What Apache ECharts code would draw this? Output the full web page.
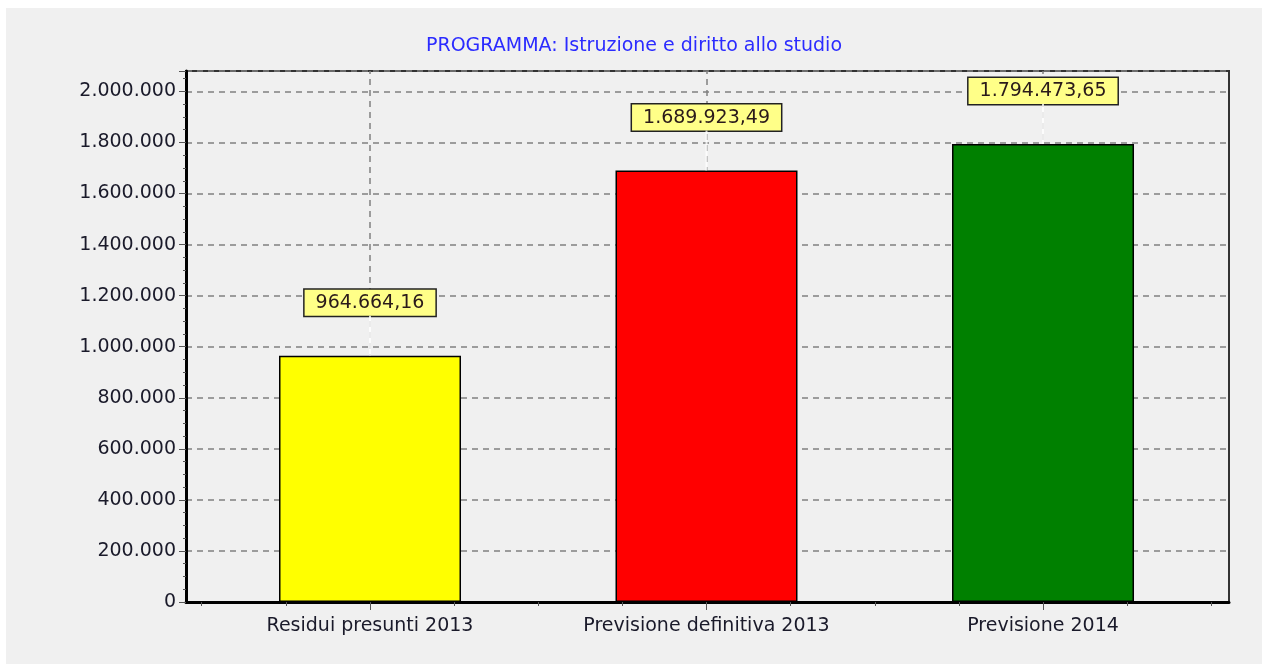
<!DOCTYPE html>
<html>
<head>
<meta charset="utf-8">
<script src="https://cdn.jsdelivr.net/npm/echarts@6/dist/echarts.min.js"></script>
<style>
  html, body { margin: 0; padding: 0; background: #ffffff; }
  #chart-panel {
    position: absolute;
    left: 6px;
    top: 8px;
    width: 1256px;
    height: 656px;
  }
</style>
</head>
<body>
<div id="chart-panel"></div>
<script>
// dati
const categories = ["Residui presunti 2013", "Previsione definitiva 2013", "Previsione 2014"]
const values = [964664.16, 1689923.49, 1794473.65]
const barColors = ["#ffff00", "#ff0000", "#008000"]
const yTicks = [0, 200000, 400000, 600000, 800000, 1000000, 1200000, 1400000, 1600000, 1800000, 2000000]
const xMinorTicks = [-0.5, -0.25, 0, 0.25, 0.5, 0.75, 1, 1.25, 1.5, 1.75, 2, 2.25, 2.5]
const title = "PROGRAMMA: Istruzione e diritto allo studio"

const font = "'DejaVu Sans', Verdana, sans-serif"

// 1234567 -> "1.234.567"
const fmtInt = (v) => {
  return String(Math.round(v)).replace(/\B(?=(\d{3})+(?!\d))/g, ".")
}
// 964664.16 -> "964.664,16"
const fmtDec = (v) => {
  const parts = v.toFixed(2).split(".")
  return fmtInt(Number(parts[0])) + "," + parts[1]
}

const chart = echarts.init(document.getElementById("chart-panel"), null, {
  renderer: "canvas"
})

const catIdx = categories.map((c, i) => i)
const data = values.map((v, i) => {
  return {
    value: [i, v],
    itemStyle: { color: barColors[i] }
  }
})
const points = values.map((v, i) => [i, v])

const options = {
  backgroundColor: "#f0f0f0",
  animation: false,
  title: {
    text: title,
    left: "center",
    top: 29,
    padding: 0,
    textStyle: {
      color: "#2b2bff",
      fontSize: 19,
      fontWeight: "normal",
      fontFamily: font
    }
  },
  grid: {
    left: 180,
    right: 33,
    top: 63,
    bottom: 62,
    show: true,
    backgroundColor: "#f0f0f0",
    borderColor: "#333",
    borderWidth: 2
  },
  xAxis: [
    {
      type: "value",
      min: -0.5468,
      max: 2.5527,
      axisLine: { show: true, onZero: false, lineStyle: { color: "#000", width: 3 } },
      axisTick: {
        show: true,
        length: 4,
        customValues: xMinorTicks,
        lineStyle: { color: "#555", width: 1 }
      },
      axisLabel: { show: false },
      splitLine: { show: false }
    },
    {
      type: "value",
      position: "bottom",
      min: -0.5468,
      max: 2.5527,
      axisLine: { show: false, onZero: false },
      axisTick: {
        show: true,
        length: 8,
        customValues: catIdx,
        lineStyle: { color: "#555", width: 1 }
      },
      axisLabel: {
        show: true,
        customValues: catIdx,
        margin: 15,
        color: "#1a1a2a",
        fontSize: 19,
        fontFamily: font,
        formatter: (v) => categories[Math.round(v)] || ""
      },
      splitLine: { show: false }
    }
  ],
  yAxis: {
    type: "value",
    min: 0,
    max: 2080000,
    interval: 200000,
    axisLine: { show: true, onZero: false, lineStyle: { color: "#000", width: 3 } },
    axisTick: { show: true, length: 7, lineStyle: { color: "#555", width: 1 } },
    minorTick: { show: true, splitNumber: 4, length: 3, lineStyle: { color: "#555", width: 1 } },
    axisLabel: {
      color: "#1a1a2a",
      fontSize: 19,
      fontFamily: font,
      margin: 10,
      customValues: yTicks,
      formatter: (v) => fmtInt(v)
    },
    splitLine: {
      show: true,
      lineStyle: { color: "#808080", type: [6, 5], width: 1.5 }
    }
  },
  series: [
    {
      type: "bar",
      xAxisIndex: 0,
      barWidth: 182,
      data: data,
      z: 2,
      itemStyle: {
        borderColor: "#000",
        borderWidth: 1.5
      },
      label: {
        show: true,
        position: "top",
        distance: 40,
        formatter: (p) => fmtDec(p.value[1]),
        backgroundColor: "#ffff88",
        borderColor: "#222",
        borderWidth: 1.5,
        padding: [4, 11, 3, 11],
        color: "#2a1a1a",
        fontSize: 19,
        fontFamily: font
      },
      markLine: {
        silent: true,
        symbol: "none",
        z: 1,
        label: { show: false },
        lineStyle: { color: "#808080", type: [6, 5], width: 1.5 },
        data: catIdx.map((i) => ({ xAxis: i }))
      }
    },
    {
      // linea bianca tra barra ed etichetta
      type: "scatter",
      xAxisIndex: 0,
      data: points,
      z: 3,
      silent: true,
      symbol: "rect",
      symbolSize: [2, 40],
      symbolOffset: [0, -20],
      itemStyle: { color: "#ffffff" },
      label: { show: false }
    }
  ]
}
chart.setOption(options)
window.addEventListener("resize", () => chart.resize())
</script>
</body>
</html>
